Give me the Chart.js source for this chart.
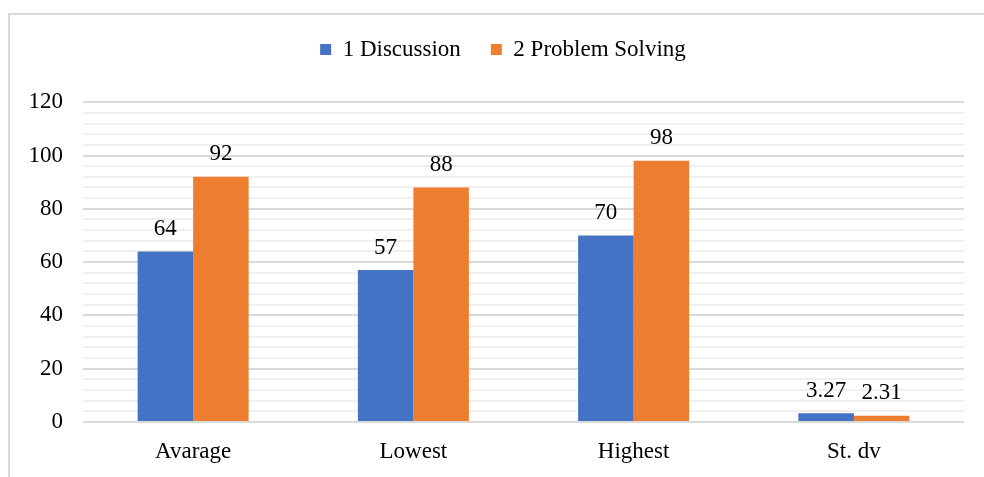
<!DOCTYPE html>
<html>
<head>
<meta charset="utf-8">
<script src="https://cdn.jsdelivr.net/npm/chart.js@4"></script>
<style>
html,body{margin:0;padding:0;background:#fff;}
#wrap{width:984px;height:477px;position:relative;}
</style>
</head>
<body>
<div id="wrap"><canvas id="c" width="984" height="477"></canvas></div>
<script>
const categories = ["Avarage", "Lowest", "Highest", "St. dv"];
const seriesNames = ["1 Discussion", "2 Problem Solving"];
const discussion = [64, 57, 70, 3.27];
const problemSolving = [92, 88, 98, 2.31];
const valueLabels1 = ["64", "57", "70", "3.27"];
const valueLabels2 = ["92", "88", "98", "2.31"];
const yMajorTicks = [0, 20, 40, 60, 80, 100, 120];

const FONT = '"Liberation Serif", "Times New Roman", serif';
const FS = 23;

const framePlugin = {
  id: 'frame',
  afterLayout(chart) {
    if (chart.legend) {
      chart.legend.left += 21;
      chart.legend.right += 21;
    }
  },
  beforeDraw(chart) {
    const ctx = chart.ctx;
    ctx.save();
    ctx.fillStyle = '#fff';
    ctx.fillRect(0, 0, chart.width, chart.height);
    ctx.strokeStyle = '#d9d9d9';
    ctx.lineWidth = 2;
    ctx.beginPath();
    ctx.moveTo(9, chart.height);
    ctx.lineTo(9, 14);
    ctx.lineTo(chart.width, 14);
    ctx.stroke();
    ctx.restore();
  }
};

const labelPlugin = {
  id: 'valueLabels',
  afterDatasetsDraw(chart) {
    const ctx = chart.ctx;
    const texts = [valueLabels1, valueLabels2];
    ctx.save();
    ctx.font = FS + 'px ' + FONT;
    ctx.fillStyle = '#000';
    ctx.textAlign = 'center';
    ctx.textBaseline = 'bottom';
    chart.data.datasets.forEach((ds, di) => {
      const meta = chart.getDatasetMeta(di);
      meta.data.forEach((el, i) => {
        ctx.fillText(texts[di][i], el.x, el.y - 11);
      });
    });
    ctx.restore();
  }
};

new Chart(document.getElementById('c'), {
  type: 'bar',
  data: {
    labels: categories,
    datasets: [
      { label: seriesNames[0], data: discussion, backgroundColor: '#4472c4' },
      { label: seriesNames[1], data: problemSolving, backgroundColor: '#ed7d31' }
    ]
  },
  options: {
    responsive: false,
    animation: false,
    layout: { padding: { left: 0, right: 20, top: 8, bottom: 10 } },
    datasets: { bar: { barPercentage: 1.0, categoryPercentage: 0.504 } },
    plugins: {
      legend: {
        position: 'top',
        weight: 1000,
        fullSize: true,
        labels: {
          boxWidth: 11, boxHeight: 11,
          font: { family: FONT, size: FS },
          color: '#000',
          padding: 30
        }
      },
      title: {
        display: true,
        text: ' ',
        position: 'top',
        weight: 500,
        font: { size: 1 },
        padding: { top: 0, bottom: 30 }
      },
      tooltip: { enabled: false }
    },
    scales: {
      x: {
        afterFit(scale) { scale.height = 45; },
        grid: { display: false, drawTicks: false },
        border: { display: false },
        ticks: { font: { family: FONT, size: FS }, color: '#000', padding: 16 }
      },
      y: {
        min: 0, max: 120,
        afterFit(scale) { scale.width = 83; },
        afterBuildTicks(scale) {
          const t = [];
          for (let v = 0; v <= 120; v += 4) t.push({ value: v });
          scale.ticks = t;
        },
        grid: {
          drawTicks: false,
          color(ctx) {
            const v = ctx.tick ? ctx.tick.value : 0;
            return yMajorTicks.includes(v) ? '#d9d9d9' : '#f0f0f0';
          },
          lineWidth: 2
        },
        border: { display: false },
        ticks: {
          autoSkip: false,
          font: { family: FONT, size: FS },
          color: '#000',
          padding: 20,
          callback(v) { return yMajorTicks.includes(v) ? String(v) : ''; }
        }
      }
    }
  },
  plugins: [framePlugin, labelPlugin]
});
</script>
</body>
</html>
